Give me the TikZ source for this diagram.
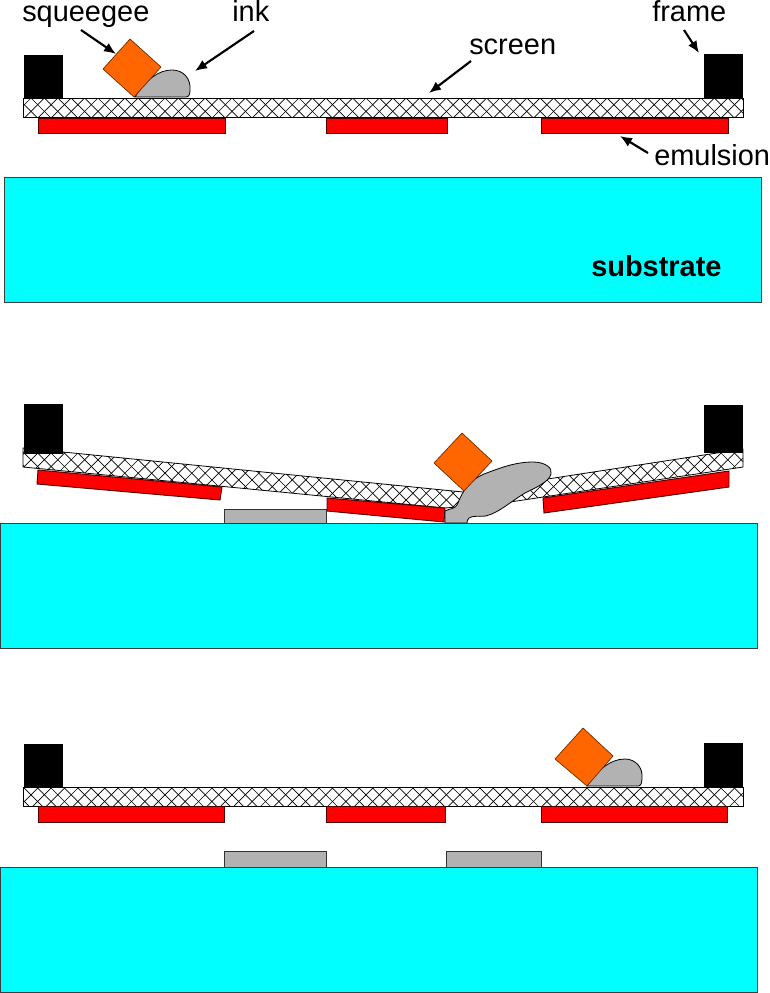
\documentclass[tikz,border=0pt]{standalone}
\usepackage{fontspec}
\setmainfont{Liberation Sans}
\usetikzlibrary{arrows.meta}
\definecolor{squeegeeorange}{HTML}{FF6600}
\definecolor{inkgray}{HTML}{B2B2B2}
\definecolor{substratecyan}{HTML}{00FFFF}
\definecolor{emulsionred}{HTML}{FF0000}
\begin{document}
\begin{tikzpicture}[x=0.75pt,y=-0.75pt]
    \tikzset{>={Latex[length=9pt,width=7.5pt]}}
    \tikzstyle{frame}=[fill=black,draw=black,line width=0.3pt]
    \tikzstyle{emulsion}=[fill=emulsionred,draw=black!70!red,line width=0.7pt]
    \tikzstyle{substrate}=[fill=substratecyan,draw=black!85!cyan,line width=0.6pt]
    \tikzstyle{squeegee}=[fill=squeegeeorange,draw=black!60!squeegeeorange,line width=0.5pt]
    \tikzstyle{ink}=[fill=inkgray,draw=black,line width=0.6pt]
    \tikzstyle{print}=[fill=inkgray,draw=black!80,line width=0.6pt]
    \tikzstyle{screen}=[draw=black,line width=0.6pt,path picture={
        \foreach \i in {-80,...,60} {
            \draw[line width=0.5pt] (13.4*\i,0) -- ++(1000,1000);
            \draw[line width=0.5pt] (13.4*\i+1000,0) -- ++(-1000,1000);
        }}]
    \tikzstyle{pointer}=[->,line width=1.6pt]
    \tikzstyle{label}=[font=\fontsize{21.7}{24}\selectfont,inner sep=0pt]

    \useasboundingbox (0,0) rectangle (769,993);

    % TOP PANEL
    \draw[frame] (24,55) rectangle (62.5,98);
    \draw[frame] (704,54) rectangle (742.5,98);
    \draw[screen] (23,98) rectangle (743,117);
    \draw[emulsion] (38,118) rectangle (225,133);
    \draw[emulsion] (326,118) rectangle (447,133);
    \draw[emulsion] (541,118) rectangle (728,133);
    \draw[substrate] (4,177) rectangle (761,302);
    \draw[ink] (135,97) .. controls (146,80) and (158,70) .. (172,70)
        .. controls (183,70) and (191,78) .. (190,90)
        .. controls (190,94) and (189,97) .. (186,97) -- cycle;
    \draw[squeegee] (130,39) -- (161,67) -- (134,97) -- (103,69) -- cycle;

    \node[label,anchor=base west] (squeegeelabel) at (22,21.5) {squeegee};
    \node[label,anchor=base west] (inklabel) at (232,21.5) {ink};
    \node[label,anchor=base west] (screenlabel) at (469,54) {screen};
    \node[label,anchor=base west] (framelabel) at (652,21.5) {frame};
    \node[label,anchor=base west] (emulsionlabel) at (654,165) {emulsion};
    \node[label,anchor=base west,font=\fontsize{21.7}{24}\selectfont\bfseries] (substratelabel) at (591,276) {substrate};

    \coordinate (squeegeetail) at (81,30);
    \coordinate (squeegeetip) at (116,54);
    \coordinate (inktail) at (254,31);
    \coordinate (inktip) at (195,71);
    \coordinate (screentail) at (471,61);
    \coordinate (screentip) at (429,93);
    \coordinate (frametail) at (684,30);
    \coordinate (frametip) at (699,53);
    \coordinate (emulsiontail) at (648,153);
    \coordinate (emulsiontip) at (620,136);
    \draw[pointer] (squeegeetail) -- (squeegeetip);
    \draw[pointer] (inktail) -- (inktip);
    \draw[pointer] (screentail) -- (screentip);
    \draw[pointer] (frametail) -- (frametip);
    \draw[pointer] (emulsiontail) -- (emulsiontip);

    % MIDDLE PANEL
    \draw[frame] (24,404) rectangle (62.5,453);
    \draw[frame] (704,405) rectangle (742.5,452);
    \draw[screen] (23,448) -- (463,492) -- (743,449) -- (743,467) -- (510,502) -- (445,508) -- (23,467) -- cycle;
    \draw[emulsion] (38,470) -- (222,487) -- (220,500) -- (37,484) -- cycle;
    \draw[emulsion] (327,498) -- (445,508) -- (444,522) -- (327,511) -- cycle;
    \draw[emulsion] (543,498) -- (729,471) -- (729,487) -- (544,513) -- cycle;
    \draw[substrate] (0,523) rectangle (757,648);
    \draw[print] (224,509) rectangle (326,523);
    \draw[ink] (445,523) -- (445,511) .. controls (450,508) and (455,510) .. (458,503)
        .. controls (463,490) and (470,480) .. (484,474)
        .. controls (500,468) and (515,462) .. (533,462)
        .. controls (545,462) and (553,468) .. (551,474)
        .. controls (549,482) and (535,488) .. (525,493)
        .. controls (510,502) and (500,512) .. (486,516)
        .. controls (478,517) and (467,514) .. (467,523) -- cycle;
    \draw[squeegee] (462,433) -- (492,461) -- (464,491) -- (434,463) -- cycle;

    % BOTTOM PANEL
    \draw[frame] (24,744) rectangle (62.5,787);
    \draw[frame] (704,743) rectangle (742.5,787);
    \draw[screen] (23,787) rectangle (743,806);
    \draw[emulsion] (38,806) rectangle (224,822);
    \draw[emulsion] (326,806) rectangle (445,822);
    \draw[emulsion] (541,806) rectangle (727,822);
    \draw[print] (224,851) rectangle (326,867);
    \draw[print] (446,851) rectangle (541,867);
    \draw[substrate] (0,867) rectangle (757,992);
    \draw[ink] (587,786) .. controls (598,770) and (610,759) .. (625,759)
        .. controls (636,759) and (643,768) .. (642,778)
        .. controls (642,783) and (641,786) .. (638,786) -- cycle;
    \draw[squeegee] (583,728) -- (613,756) -- (587,786) -- (555,759) -- cycle;
\end{tikzpicture}
\end{document}
